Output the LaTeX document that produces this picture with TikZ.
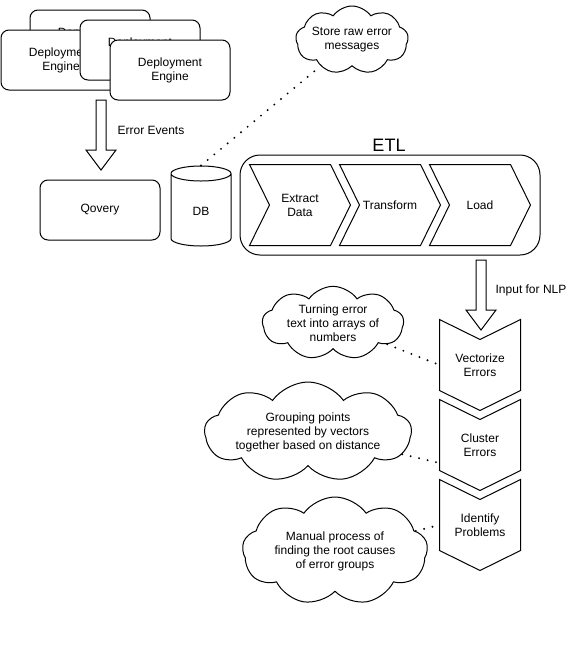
\documentclass[tikz,border=0pt]{standalone}
\usepackage{fontspec}
\setmainfont{Liberation Sans}
\usetikzlibrary{shapes.geometric,shapes.symbols}
\tikzset{
	box/.style={draw,fill=white,rounded corners=6pt,minimum width=90pt,minimum height=45pt,align=center,inner sep=0pt},
	stepbox/.style={inner sep=0pt,align=center},
	note/.style={cloud,draw,cloud puffs=9,cloud puff arc=110,cloud ignores aspect,align=center,inner sep=0pt},
	dots/.style={line width=1.6pt,line cap=round,dash pattern=on 0pt off 6.5pt},
	hollow/.style={draw,fill=white,line join=miter}
}
\newcommand\stepH[1]{\draw (#1.north west) -- ([xshift=-15pt]#1.north east) -- (#1.east) -- ([xshift=-15pt]#1.south east) -- (#1.south west) -- ([xshift=15pt]#1.west) -- cycle;}
\newcommand\stepV[1]{\draw (#1.north west) -- ([yshift=-15pt]#1.north) -- (#1.north east) -- ([yshift=15pt]#1.south east) -- (#1.south) -- ([yshift=15pt]#1.south west) -- cycle;}
\begin{document}
\begin{tikzpicture}[x=0.75pt,y=-0.75pt,line width=0.75pt,font=\fontsize{9}{10.5}\selectfont]
	\useasboundingbox (0,0) rectangle (577,647);
	% deployment engines
	\node[box] (dep1) at (90,40) {Deployment\\Engine};
	\node[box] (dep2) at (61,60) {Deployment\\Engine};
	\node[box] (dep3) at (140,50) {Deployment\\Engine};
	\node[box] (dep4) at (170,70) {Deployment\\Engine};
	\coordinate (evTop) at (101,100);
	\draw[hollow] (evTop) ++(-5,0) -- ++(0,50) -- ++(-10,0) -- ++(15,20) -- ++(15,-20) -- ++(-10,0) -- ++(0,-50) -- cycle;
	\node (evLbl) at (151,130) {Error Events};
	\node[box] (qovery) at (100,210) {Qovery};
	\node[cylinder,draw,shape border rotate=90,aspect=0.9,minimum width=45pt,minimum height=60pt,inner sep=0pt] (db) at (201,210) {\raisebox{-8pt}{DB}};
	% raw messages
	\node[note,minimum width=75pt,minimum height=51pt] (storeMsg) at (352,40) {Store raw error\\messages};
	\draw[dots] (db.top) -- (storeMsg);
	% etl
	\node[font=\fontsize{13.5}{16}\selectfont] (etlLbl) at (389,145) {ETL};
	\node[draw,rounded corners=15pt,minimum width=225pt,minimum height=75pt] (etl) at (390,205) {};
	\node[stepbox,minimum width=75pt,minimum height=60pt] (ext) at (300,205) {Extract\\Data};
	\node[stepbox,minimum width=75pt,minimum height=60pt] (tra) at (390,205) {Transform};
	\node[stepbox,minimum width=75pt,minimum height=60pt] (loa) at (480,205) {Load};
	\stepH{ext} \stepH{tra} \stepH{loa}
	\coordinate (nlpTop) at (481,260);
	\draw[hollow] (nlpTop) ++(-5,0) -- ++(0,50) -- ++(-10,0) -- ++(15,20) -- ++(15,-20) -- ++(-10,0) -- ++(0,-50) -- cycle;
	\node (nlpLbl) at (531,290) {Input for NLP};
	% nlp steps
	\node[stepbox,minimum width=60pt,minimum height=67.5pt] (vec) at (480,365) {Vectorize\\Errors};
	\node[stepbox,minimum width=60pt,minimum height=67.5pt] (clu) at (480,445) {Cluster\\Errors};
	\node[stepbox,minimum width=60pt,minimum height=67.5pt] (idf) at (480,525) {Identify\\Problems};
	\stepV{vec} \stepV{clu} \stepV{idf}
	\node[note,minimum width=106pt,minimum height=55pt] (turn) at (333,323) {Turning error\\text into arrays of\\numbers};
	\node[note,minimum width=155pt,minimum height=75pt] (group) at (308,432) {Grouping points\\represented by vectors\\together based on distance};
	\node[note,minimum width=139pt,minimum height=81pt] (manual) at (335,551) {Manual process of\\finding the root causes\\of error groups};
	\draw[dots] (turn) -- (vec.west);
	\draw[dots] (group) -- ([yshift=-13.5pt]clu.west);
	\draw[dots] (manual) -- (idf.west);
\end{tikzpicture}
\end{document}
